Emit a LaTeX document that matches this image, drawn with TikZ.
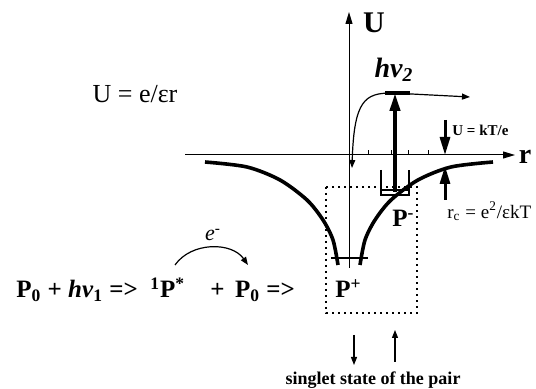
\documentclass[tikz,border=0pt]{standalone}
\usepackage{fontspec}
\setmainfont{Liberation Serif}
\usetikzlibrary{arrows.meta}
\definecolor{PairInk}{HTML}{000000}

\begin{document}
\begin{tikzpicture}[x=0.5pt,y=-0.5pt,
    axis/.style={PairInk,line width=0.5pt,-{Triangle[length=6pt,width=3.5pt]}},
    well/.style={PairInk,line width=1.8pt},
    bigarrow/.style={PairInk,line width=2pt,-{Triangle[length=9pt,width=5pt]}},
    thinarrow/.style={PairInk,line width=0.6pt,-{Triangle[length=4pt,width=3pt]}},
    eqn/.style={inner sep=0pt,anchor=base west,font=\bfseries\fontsize{12.5}{12.5}\selectfont}]
  \useasboundingbox (0,0) rectangle (536,389);
  % axes
  \coordinate (ubot) at (349,268);
  \coordinate (utop) at (349,12);
  \coordinate (rleft) at (185,155);
  \coordinate (rright) at (515,155);
  \draw[axis] (ubot) -- (utop);
  \draw[axis] (rleft) -- (rright);
  \node[inner sep=0pt,font=\bfseries\fontsize{15}{15}\selectfont] (ulabel) at (374,23) {U};
  \node[inner sep=0pt,font=\bfseries\fontsize{14}{14}\selectfont] (rlabel) at (525,157) {r};
  \foreach \t in {368,391,408,428}
    \draw[PairInk,line width=0.5pt] (\t,155) -- (\t,150);
  % the well
  \draw[well] plot[smooth] coordinates {(205,162) (247,167) (280,180) (307,200) (323,220) (333,240) (338,265)};
  \draw[well] plot[smooth] coordinates {(360,265) (365,240) (375,220) (391,200) (418,180) (451,167) (493,162)};
  \draw[PairInk,line width=1pt] (331,258) -- (368,258);
  \node[font=\fontsize{13}{13}\selectfont] (coulomb) at (135,94) {U = e/εr};
  % pair box and levels
  \draw[PairInk,line width=1pt,dash pattern=on 1pt off 2pt] (326,187) rectangle (417,313);
  \draw[PairInk,line width=0.6pt] (381,170) -- (381,195) -- (409,195) -- (409,170);
  \draw[PairInk,line width=0.6pt] (381,190) -- (409,190);
  \node[eqn] (pminus) at (392,227) {P\textsuperscript{-}};
  \node[eqn] (pplus) at (335,298) {P\textsuperscript{+}};
  % photon hv2
  \coordinate (hfoot) at (395,192);
  \coordinate (htop) at (395,93);
  \draw[bigarrow] (hfoot) -- (htop);
  \draw[PairInk,line width=2pt] (385,93) -- (410,93);
  \node[font=\bfseries\itshape\fontsize{14}{14}\selectfont] (hnu) at (394,70) {hν\textsubscript{2}};
  \coordinate (drop) at (352,168);
  \coordinate (away) at (470,97);
  \draw[thinarrow,{Triangle[length=4pt,width=3pt]}-{Triangle[length=4pt,width=3pt]}]
    (drop) .. controls (354,100) and (365,93) .. (392,93) -- (away);
  % kT level
  \coordinate (kttop) at (445,120);
  \coordinate (ktaxis) at (445,155);
  \coordinate (rcbot) at (445,200);
  \coordinate (rcwell) at (445,166);
  \draw[bigarrow,line width=1.5pt] (kttop) -- (ktaxis);
  \draw[bigarrow,line width=1.5pt] (rcbot) -- (rcwell);
  \node[anchor=west,inner sep=0pt,font=\bfseries\fontsize{7.5}{7.5}\selectfont] (kt) at (452,130) {U = kT/e};
  \node[anchor=west,inner sep=0pt,font=\fontsize{9.5}{9.5}\selectfont] (rc) at (447,211) {r\textsubscript{c} = e\textsuperscript{2}/εkT};
  % reaction
  \node[eqn] (react) at (16,298) {P\textsubscript{0} + \textit{hν}\textsubscript{1} =>};
  \node[eqn] (excited) at (150,298) {\textsuperscript{1}P\textsuperscript{*}};
  \node[eqn] (ground) at (210,298) {+\, P\textsubscript{0}};
  \node[eqn] (yields) at (266,298) {=>};
  \coordinate (eout) at (175,265);
  \coordinate (ein) at (248,265);
  \draw[thinarrow] (eout) to[bend left=55] (ein);
  \node[font=\itshape\fontsize{11}{11}\selectfont] (electron) at (213,235) {e\textsuperscript{-}};
  % singlet state
  \coordinate (downtop) at (354,335);
  \coordinate (downend) at (354,365);
  \coordinate (upfoot) at (395,362);
  \coordinate (upend) at (395,330);
  \draw[thinarrow] (downtop) -- (downend);
  \draw[thinarrow] (upfoot) -- (upend);
  \node[font=\bfseries\fontsize{9}{9}\selectfont] (pair) at (373,380) {singlet state of the pair};
\end{tikzpicture}
\end{document}
